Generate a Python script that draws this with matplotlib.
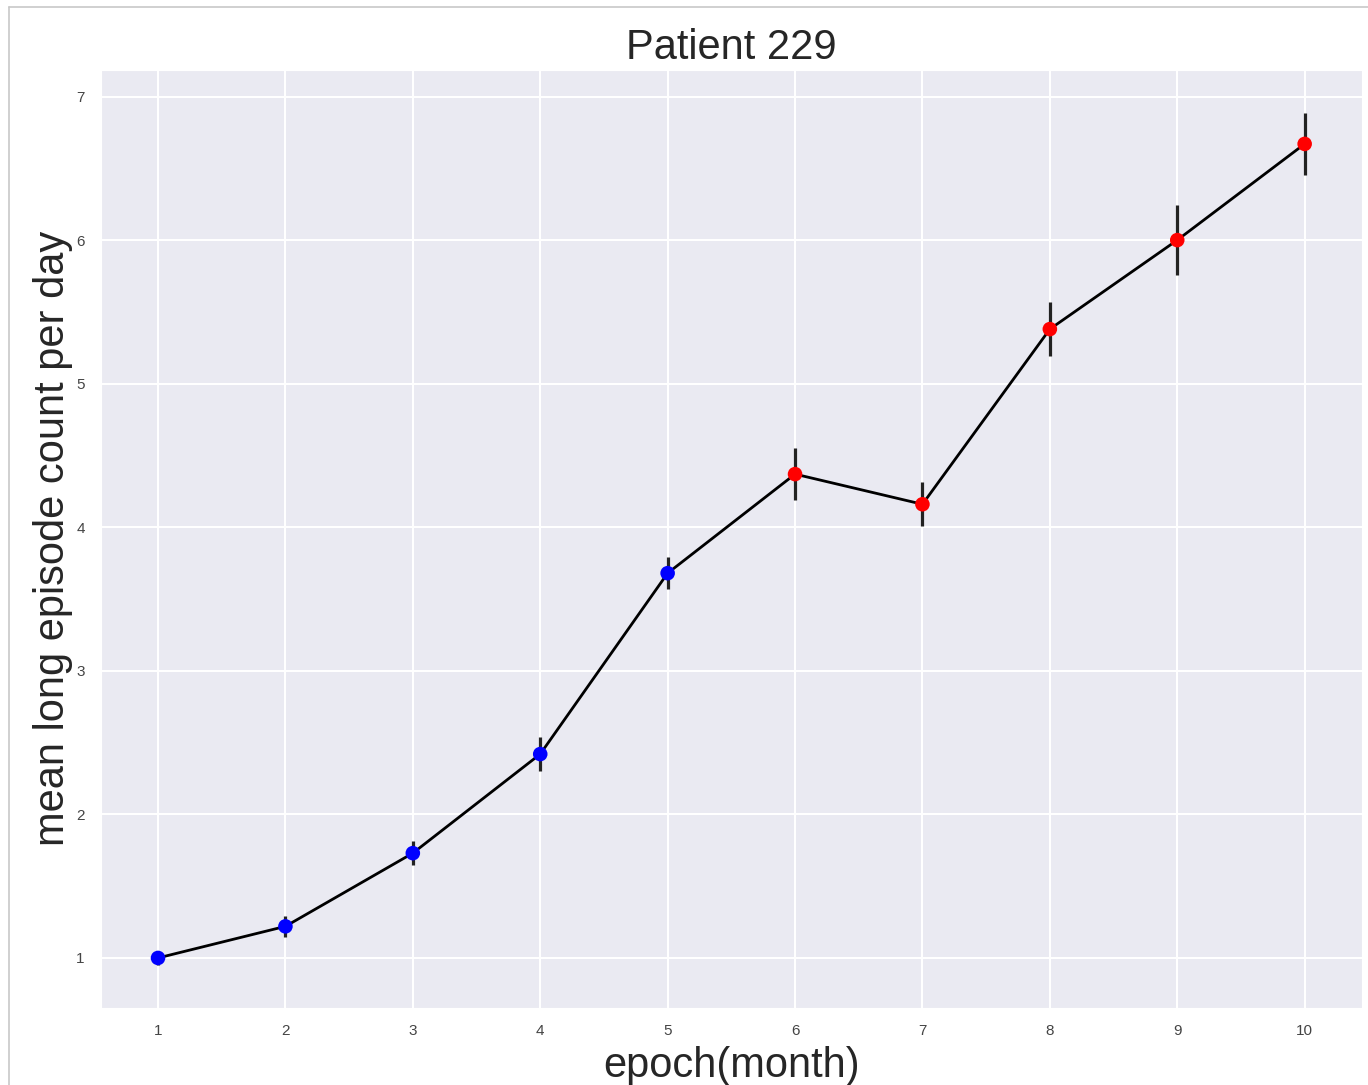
import matplotlib
matplotlib.use("Agg")
import matplotlib.pyplot as plt
import seaborn as sns
from matplotlib.lines import Line2D

# monthly epochs and mean long-episode counts (with spread)
epochs = [1, 2, 3, 4, 5, 6, 7, 8, 9, 10]
mean_counts = [1.00, 1.22, 1.73, 2.42, 3.68, 4.37, 4.16, 5.38, 6.00, 6.67]
errors = [0.05, 0.072, 0.082, 0.117, 0.111, 0.179, 0.153, 0.186, 0.244, 0.218]
point_colors = ["blue"] * 5 + ["red"] * 5

sns.set_style("darkgrid")
plt.rcParams["font.family"] = ["Liberation Sans", "DejaVu Sans"]
plt.rcParams["grid.linewidth"] = 1.5

fig = plt.figure(figsize=(13.68, 10.85), dpi=100)
ax = fig.add_axes([0.0736, 0.0712, 0.922, 0.8643])

ax.plot(epochs, mean_counts, color="black", lw=2.0, zorder=2)
ax.errorbar(epochs, mean_counts, yerr=errors, fmt="none",
            ecolor="#222222", elinewidth=2.3, capsize=0, zorder=3)
ax.scatter(epochs, mean_counts, c=point_colors, s=110, zorder=4,
           edgecolors="none")

ax.set_xticks(epochs)
ax.set_yticks([1, 2, 3, 4, 5, 6, 7])
ax.tick_params(labelsize=11, colors="#444444", pad=8)

ax.set_title("Patient 229", fontsize=30, color="#262626", pad=8)
ax.set_xlabel("epoch(month)", fontsize=30, color="#262626", labelpad=6)
ax.set_ylabel("mean long episode count per day", fontsize=30,
              color="#262626", labelpad=2)

# thin grey frame on the top and left edge
fig.add_artist(Line2D([9 / 1368, 1], [1 - 7 / 1085, 1 - 7 / 1085],
                      transform=fig.transFigure, color="#c8c8c8", lw=1.2))
fig.add_artist(Line2D([9 / 1368, 9 / 1368], [0, 1 - 7 / 1085],
                      transform=fig.transFigure, color="#c8c8c8", lw=1.2))

plt.savefig("out.png", dpi=100)
